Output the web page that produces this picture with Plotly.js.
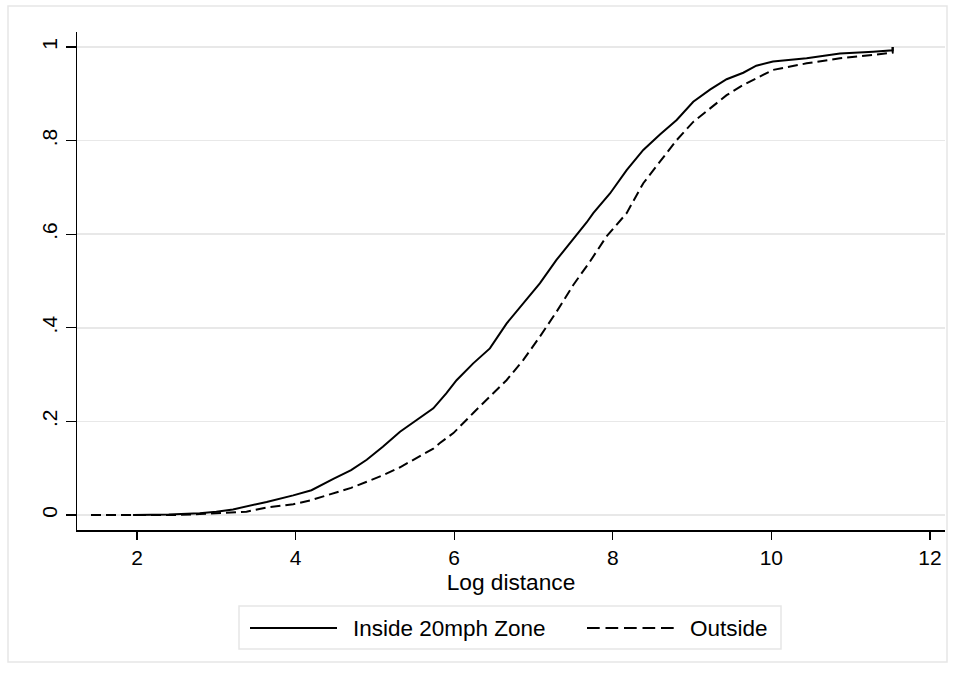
<!DOCTYPE html>
<html>
<head>
<meta charset="utf-8">
<script src="https://cdn.plot.ly/plotly-3.0.1.min.js"></script>
<style>
  html, body { margin: 0; padding: 0; background: #ffffff; }
  #chart { width: 955px; height: 677px; }
</style>
</head>
<body>
<div id="chart"></div>
<script>
// Empirical cumulative distribution of log distance, by zone
const insideX = [1.95, 2.4, 2.79, 3.0, 3.21, 3.38, 3.635, 3.97, 4.2, 4.476, 4.7, 4.897, 5.1, 5.317, 5.52, 5.737, 5.9, 6.03, 6.24, 6.45, 6.66, 6.87, 7.08, 7.29, 7.50, 7.67, 7.754, 7.965, 8.175, 8.385, 8.595, 8.806, 9.015, 9.226, 9.436, 9.646, 9.81, 10.02, 10.445, 10.865, 11.285, 11.53, 11.53];
const insideY = [0, 0.001, 0.004, 0.007, 0.012, 0.018, 0.028, 0.042, 0.053, 0.077, 0.096, 0.118, 0.146, 0.178, 0.203, 0.228, 0.26, 0.288, 0.324, 0.356, 0.409, 0.452, 0.495, 0.545, 0.588, 0.625, 0.645, 0.687, 0.737, 0.780, 0.813, 0.844, 0.883, 0.909, 0.931, 0.945, 0.960, 0.969, 0.976, 0.986, 0.990, 0.993, 1.0];

const outsideX = [1.42, 2.0, 2.5, 2.79, 3.21, 3.38, 3.635, 3.97, 4.2, 4.476, 4.7, 4.897, 5.1, 5.317, 5.52, 5.737, 5.82, 5.99, 6.24, 6.45, 6.66, 6.87, 7.08, 7.29, 7.50, 7.71, 7.92, 8.175, 8.385, 8.595, 8.806, 9.015, 9.226, 9.436, 9.646, 9.856, 10.02, 10.445, 10.865, 11.285, 11.53, 11.53];
const outsideY = [0, 0, 0, 0.002, 0.005, 0.007, 0.016, 0.023, 0.032, 0.046, 0.058, 0.071, 0.085, 0.102, 0.121, 0.142, 0.154, 0.175, 0.218, 0.253, 0.288, 0.331, 0.381, 0.434, 0.491, 0.541, 0.595, 0.645, 0.709, 0.755, 0.801, 0.840, 0.869, 0.897, 0.919, 0.937, 0.951, 0.965, 0.976, 0.983, 0.988, 1.0];

const seriesNames = ["Inside 20mph Zone", "Outside"];
const xTickVals = [2, 4, 6, 8, 10, 12];
const yTickVals = [0, 0.2, 0.4, 0.6, 0.8, 1];
const yTickText = ["0", ".2", ".4", ".6", ".8", "1"];
const xTitle = "Log distance";

const FONT = "Liberation Sans, Arial, Helvetica, sans-serif";
const DASH = "10px,5px";

const traces = [
  {
    x: insideX, y: insideY, name: seriesNames[0], type: "scatter", mode: "lines",
    line: { color: "#000000", width: 2, dash: "solid" }, showlegend: false
  },
  {
    x: outsideX, y: outsideY, name: seriesNames[1], type: "scatter", mode: "lines",
    line: { color: "#000000", width: 2, dash: DASH }, showlegend: false
  }
];

// plot area in pixels: left 77, right 945, top 32, bottom 530
const L = 77, W = 868, B = 530, H = 498;
const px = v => (v - L) / W;
const py = v => (B - v) / H;

const legendY = 628;
const shapes = [
  // outer frame
  { type: "rect", xref: "paper", yref: "paper", x0: px(8), x1: px(947), y0: py(662), y1: py(6),
    line: { color: "#e6e6e6", width: 1.5 }, fillcolor: "rgba(0,0,0,0)", layer: "below" },
  // legend box
  { type: "rect", xref: "paper", yref: "paper", x0: px(239), x1: px(781), y0: py(649), y1: py(606),
    line: { color: "#e6e6e6", width: 1.5 }, fillcolor: "#ffffff" },
  // legend keys
  { type: "line", xref: "paper", yref: "paper", x0: px(250), x1: px(337), y0: py(legendY), y1: py(legendY),
    line: { color: "#000000", width: 2 } },
  { type: "line", xref: "paper", yref: "paper", x0: px(587), x1: px(675), y0: py(legendY), y1: py(legendY),
    line: { color: "#000000", width: 2, dash: "12.7px,5.8px" } }
];

const annotations = [
  { xref: "paper", yref: "paper", x: px(351), y: py(legendY), xanchor: "left", yanchor: "middle",
    text: seriesNames[0], showarrow: false, font: { family: FONT, size: 22.5, color: "#000000" } },
  { xref: "paper", yref: "paper", x: px(688), y: py(legendY), xanchor: "left", yanchor: "middle",
    text: seriesNames[1], showarrow: false, font: { family: FONT, size: 22.5, color: "#000000" } }
];

const layout = {
  width: 955, height: 677,
  margin: { l: L, r: 955 - 945, t: 32, b: 677 - 530, pad: 0 },
  paper_bgcolor: "#ffffff", plot_bgcolor: "#ffffff",
  font: { family: FONT, color: "#000000" },
  showlegend: false,
  xaxis: {
    range: [1.243, 12.19], tickvals: xTickVals, ticktext: xTickVals.map(String),
    showgrid: false, zeroline: false, showline: true, linecolor: "#000000", linewidth: 1.5,
    ticks: "outside", ticklen: 8, tickwidth: 1.2, tickcolor: "#000000",
    tickfont: { family: FONT, size: 21, color: "#000000" },
    title: { text: xTitle, font: { family: FONT, size: 22.7, color: "#000000" }, standoff: 6 },
    automargin: false, fixedrange: true
  },
  yaxis: {
    range: [-0.032, 1.032], tickvals: yTickVals, ticktext: yTickText, tickangle: -90,
    showgrid: true, gridcolor: "#e8e8e8", gridwidth: 1.5,
    zeroline: false, showline: true, linecolor: "#000000", linewidth: 1.5,
    ticks: "outside", ticklen: 10, tickwidth: 1.2, tickcolor: "#000000",
    tickfont: { family: FONT, size: 21, color: "#000000" },
    automargin: false, fixedrange: true
  },
  shapes: shapes,
  annotations: annotations
};

Plotly.newPlot("chart", traces, layout, { staticPlot: true, displayModeBar: false });
</script>
</body>
</html>
